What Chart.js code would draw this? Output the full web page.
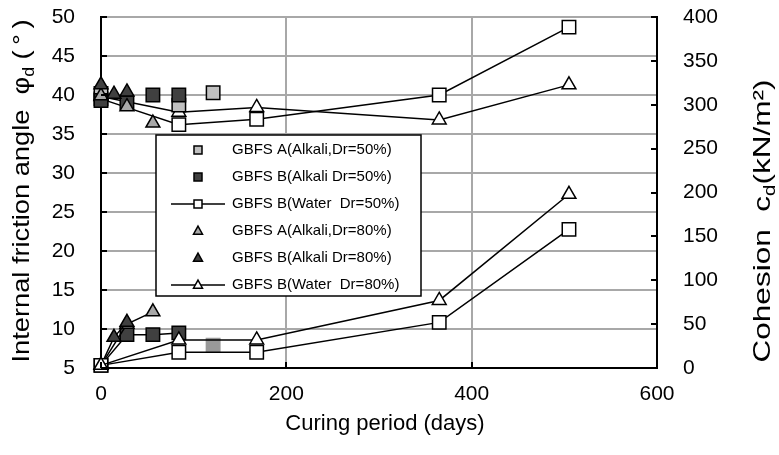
<!DOCTYPE html>
<html>
<head>
<meta charset="utf-8">
<script src="https://cdn.jsdelivr.net/npm/chart.js@4.4.1/dist/chart.umd.min.js"></script>
<style>
  html, body { margin: 0; padding: 0; background: #fff; }
  #wrap { width: 779px; height: 455px; }
</style>
</head>
<body>
<div id="wrap"><canvas id="chart"></canvas></div>
<script>
// Legend labels
const seriesLabels = [
  "GBFS A(Alkali,Dr=50%)",
  "GBFS B(Alkali Dr=50%)",
  "GBFS B(Water  Dr=50%)",
  "GBFS A(Alkali,Dr=80%)",
  "GBFS B(Alkali Dr=80%)",
  "GBFS B(Water  Dr=80%)",
];

// Axis ticks
const xTicks = [0, 200, 400, 600];
const phiTicks = [5, 10, 15, 20, 25, 30, 35, 40, 45, 50];
const cTicks = [0, 50, 100, 150, 200, 250, 300, 350, 400];

// Internal friction angle (deg), left axis
const aAlk50PhiDays = [0, 84, 121];
const aAlk50Phi = [40.2, 38.7, 40.3];
const bAlk50PhiDays = [0, 28, 56, 84];
const bAlk50Phi = [39.3, 39.0, 40.0, 40.0];
const waterDays = [0, 84, 168, 365, 505];
const bWat50Phi = [39.5, 36.2, 36.9, 40.0, 48.7];
const aAlk80PhiDays = [0, 28, 56];
const aAlk80Phi = [39.9, 38.5, 36.4];
const bAlk80PhiDays = [0, 14, 28];
const bAlk80Phi = [41.3, 40.1, 40.4];
const bWat80Phi = [39.8, 37.8, 38.4, 36.8, 41.3];

// Cohesion (kN/m2), right axis
const aAlk50CDays = [121];
const aAlk50C = [26];
const bAlk50CDays = [0, 28, 56, 84];
const bAlk50C = [3, 38, 38, 40];
const bWat50C = [3, 18, 18, 52, 158];
const aAlk80CDays = [0, 28, 56];
const aAlk80C = [3, 50, 64];
const bAlk80CDays = [0, 14, 28];
const bAlk80C = [3, 35, 52];
const bWat80C = [3, 32, 32, 77, 198];

const DARK = "#404040";
const LIGHT = "#c0c0c0";
const MID = "#a8a8a8";
const FONT = "'Liberation Sans', Arial, sans-serif";

const pts = (xs, ys) => xs.map((x, i) => ({ x: x, y: ys[i] }));

function series(xs, ys, axis, shape, fill, line, order, border) {
  return {
    data: pts(xs, ys),
    yAxisID: axis,
    showLine: line,
    clip: false,
    borderColor: "#000",
    borderWidth: 1.5,
    pointStyle: shape,
    pointRadius: shape === "rect" ? 9.5 : 8,
    pointBackgroundColor: fill,
    pointBorderColor: border || "#000",
    pointBorderWidth: 1.5,
    order: order,
  };
}

// legend marker styles, same order as seriesLabels
const legendShapes = ["rect", "rect", "rect", "triangle", "triangle", "triangle"];
const legendFills = [LIGHT, DARK, "#fff", MID, DARK, "#fff"];
const legendLines = [false, false, true, false, false, true];

function marker(ctx, shape, x, y, r, fill) {
  ctx.beginPath();
  if (shape === "rect") {
    ctx.rect(x - r, y - r, 2 * r, 2 * r);
  } else {
    const h = r * 1.8;
    ctx.moveTo(x, y - h * 0.6);
    ctx.lineTo(x + r, y + h * 0.4);
    ctx.lineTo(x - r, y + h * 0.4);
    ctx.closePath();
  }
  ctx.fillStyle = fill;
  ctx.fill();
  ctx.lineWidth = 1.5;
  ctx.strokeStyle = "#000";
  ctx.stroke();
}

function rotatedTitle(ctx, cx, cy, len, parts, size) {
  ctx.save();
  ctx.translate(cx, cy);
  ctx.rotate(-Math.PI / 2);
  ctx.fillStyle = "#000";
  ctx.textBaseline = "middle";
  ctx.textAlign = "left";
  const widths = parts.map((p) => {
    ctx.font = (p.sub ? size * 0.65 : size) + "px " + FONT;
    return ctx.measureText(p.t).width;
  });
  const total = widths.reduce((a, b) => a + b, 0);
  ctx.scale(len / total, 1);
  let x = -total / 2;
  parts.forEach((p, i) => {
    ctx.font = (p.sub ? size * 0.65 : size) + "px " + FONT;
    ctx.fillText(p.t, x, p.sub ? size * 0.3 : 0);
    x += widths[i];
  });
  ctx.restore();
}

const decorations = {
  id: "decorations",
  afterDraw(chart) {
    const ctx = chart.ctx;
    const a = chart.chartArea;
    const sx = chart.scales.x, yl = chart.scales.y, yr = chart.scales.y2;

    // inward tick marks
    ctx.save();
    ctx.strokeStyle = "#000";
    ctx.lineWidth = 2;
    ctx.beginPath();
    sx.ticks.forEach((t) => {
      const p = Math.round(sx.getPixelForValue(t.value));
      ctx.moveTo(p, a.bottom);
      ctx.lineTo(p, a.bottom - 6);
    });
    yl.ticks.forEach((t) => {
      const p = Math.round(yl.getPixelForValue(t.value));
      ctx.moveTo(a.left, p);
      ctx.lineTo(a.left + 6, p);
    });
    yr.ticks.forEach((t) => {
      const p = Math.round(yr.getPixelForValue(t.value));
      ctx.moveTo(a.right, p);
      ctx.lineTo(a.right - 6, p);
    });
    ctx.stroke();
    ctx.restore();

    // axis titles
    ctx.save();
    ctx.fillStyle = "#000";
    ctx.font = "22px " + FONT;
    ctx.textAlign = "center";
    ctx.textBaseline = "middle";
    ctx.fillText("Curing period (days)", 385, 424);
    ctx.restore();
    rotatedTitle(ctx, 22.5, 191, 343, [
      { t: "Internal friction angle  \u03c6" },
      { t: "d", sub: true },
      { t: " (\u2009\u00b0\u2009)" },
    ], 24);
    rotatedTitle(ctx, 763, 221, 283, [
      { t: "Cohesion  c" },
      { t: "d", sub: true },
      { t: "(kN/m\u00b2)" },
    ], 24);

    // legend box
    ctx.save();
    ctx.fillStyle = "#fff";
    ctx.fillRect(156, 135, 265, 161);
    ctx.strokeStyle = "#000";
    ctx.lineWidth = 1.5;
    ctx.strokeRect(156, 135, 265, 161);
    ctx.font = "15px " + FONT;
    ctx.textBaseline = "middle";
    seriesLabels.forEach((label, i) => {
      const y = 150 + i * 27;
      if (legendLines[i]) {
        ctx.beginPath();
        ctx.moveTo(171, y);
        ctx.lineTo(225, y);
        ctx.lineWidth = 1.5;
        ctx.strokeStyle = "#000";
        ctx.stroke();
      }
      marker(ctx, legendShapes[i], 198, y, legendShapes[i] === "rect" ? 4 : 4.5, legendFills[i]);
      ctx.fillStyle = "#000";
      ctx.fillText(label, 232, y);
    });
    ctx.restore();
  },
};

// vertical axes: drop the label overhang so the plot can start at the top padding
const noOverhang = (w) => (s) => {
  s.width = w;
  s.paddingTop = 0;
  s.paddingBottom = 0;
};

Chart.defaults.font.family = FONT;
Chart.defaults.font.size = 21;
Chart.defaults.color = "#000";

new Chart(document.getElementById("chart"), {
  type: "scatter",
  data: {
    datasets: [
      // friction angle
      series(aAlk50PhiDays, aAlk50Phi, "y", "rect", LIGHT, false, 4),
      series(bAlk50PhiDays, bAlk50Phi, "y", "rect", DARK, false, 3),
      series(waterDays, bWat50Phi, "y", "rect", "#fff", true, 10),
      series(aAlk80PhiDays, aAlk80Phi, "y", "triangle", MID, false, 2),
      series(bAlk80PhiDays, bAlk80Phi, "y", "triangle", DARK, false, 1),
      series(waterDays, bWat80Phi, "y", "triangle", "#fff", true, 9),
      // cohesion
      series(aAlk50CDays, aAlk50C, "y2", "rect", "#999999", false, 8, "#999999"),
      series(bAlk50CDays, bAlk50C, "y2", "rect", DARK, true, 7),
      series(waterDays, bWat50C, "y2", "rect", "#fff", true, 0.5),
      series(aAlk80CDays, aAlk80C, "y2", "triangle", MID, true, 6),
      series(bAlk80CDays, bAlk80C, "y2", "triangle", DARK, true, 5),
      series(waterDays, bWat80C, "y2", "triangle", "#fff", true, 0),
    ],
  },
  options: {
    responsive: true,
    maintainAspectRatio: false,
    animation: false,
    layout: { padding: { top: 17, left: 0, right: 0, bottom: 0 } },
    plugins: {
      legend: { display: false },
      tooltip: { enabled: false },
    },
    scales: {
      x: {
        type: "linear",
        min: 0,
        max: 600,
        afterBuildTicks: (s) => { s.ticks = xTicks.map((v) => ({ value: v })); },
        afterFit: (s) => { s.height = 87; },
        ticks: { padding: 14, maxRotation: 0, font: { size: 21 } },
        grid: { color: MID, lineWidth: 2, drawTicks: false },
        border: { color: "#000", width: 2 },
      },
      y: {
        position: "left",
        min: 5,
        max: 50,
        afterBuildTicks: (s) => { s.ticks = phiTicks.map((v) => ({ value: v })); },
        afterFit: noOverhang(101),
        ticks: { padding: 26, font: { size: 21 } },
        grid: { color: MID, lineWidth: 2, drawTicks: false },
        border: { color: "#000", width: 2 },
      },
      y2: {
        position: "right",
        min: 0,
        max: 400,
        afterBuildTicks: (s) => { s.ticks = cTicks.map((v) => ({ value: v })); },
        afterFit: noOverhang(122),
        ticks: { padding: 26, font: { size: 21 } },
        grid: { display: false, drawTicks: false },
        border: { color: "#000", width: 2 },
      },
    },
  },
  plugins: [decorations],
});
</script>
</body>
</html>
